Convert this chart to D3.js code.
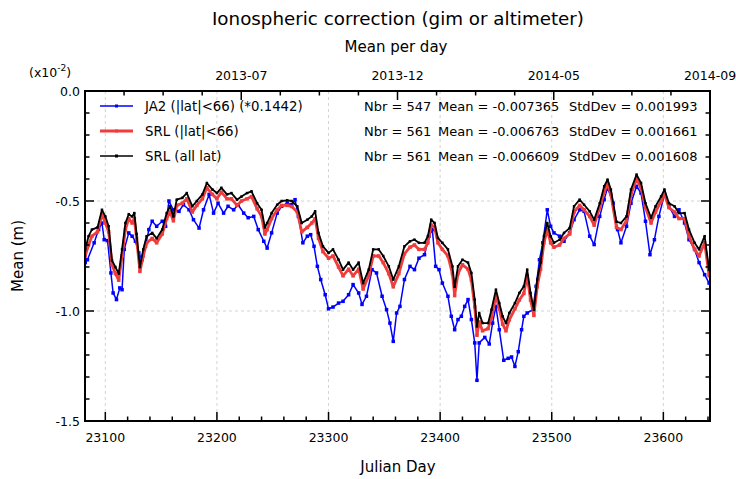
<!DOCTYPE html>
<html><head><meta charset="utf-8">
<script src="https://cdn.jsdelivr.net/npm/d3@7"></script>
<style>body{margin:0;background:#fff;} text{font-family:"DejaVu Sans",sans-serif;}</style>
</head><body>
<svg id="c" width="736" height="479"></svg>
<script>
const blackDays = [23082,23085,23088,23093,23097,23100,23103,23106,23109,23112,23115,23118,23121,23124,23126,23128,23131,23134,23137,23142,23146,23151,23155,23158,23161,23164,23169,23173,23178,23182,23187,23191,23196,23200,23204,23209,23213,23218,23222,23227,23231,23236,23240,23243,23245,23249,23254,23258,23263,23267,23272,23276,23281,23285,23288,23291,23295,23300,23304,23309,23313,23318,23322,23327,23331,23336,23340,23345,23349,23354,23358,23363,23368,23373,23377,23381,23386,23389,23392,23395,23398,23402,23407,23411,23413,23416,23420,23425,23428,23431,23433,23435,23438,23443,23446,23450,23453,23456,23459,23462,23467,23471,23475,23478,23481,23484,23487,23490,23493,23496,23499,23502,23507,23511,23516,23520,23525,23529,23534,23538,23543,23547,23550,23553,23558,23562,23567,23571,23576,23580,23584,23589,23593,23598,23601,23605,23610,23614,23619,23623,23628,23632,23637,23641];
const blackVals = [-0.72,-0.66,-0.63,-0.62,-0.54,-0.57,-0.615,-0.77,-0.80,-0.83,-0.72,-0.60,-0.56,-0.57,-0.555,-0.65,-0.80,-0.72,-0.66,-0.645,-0.67,-0.63,-0.555,-0.524,-0.57,-0.494,-0.486,-0.464,-0.524,-0.50,-0.47,-0.418,-0.448,-0.464,-0.44,-0.47,-0.464,-0.494,-0.48,-0.464,-0.456,-0.51,-0.54,-0.62,-0.60,-0.555,-0.517,-0.50,-0.497,-0.50,-0.524,-0.60,-0.585,-0.57,-0.547,-0.645,-0.706,-0.736,-0.72,-0.767,-0.812,-0.78,-0.812,-0.78,-0.873,-0.812,-0.72,-0.72,-0.75,-0.797,-0.857,-0.797,-0.706,-0.683,-0.676,-0.69,-0.69,-0.66,-0.585,-0.60,-0.668,-0.69,-0.72,-0.797,-0.89,-0.797,-0.767,-0.78,-0.827,-0.948,-1.07,-1.009,-1.055,-1.055,-0.994,-0.903,-0.964,-1.024,-1.055,-1.009,-0.964,-0.918,-0.888,-0.812,-0.918,-0.994,-0.857,-0.78,-0.66,-0.60,-0.66,-0.69,-0.676,-0.645,-0.623,-0.524,-0.494,-0.517,-0.547,-0.585,-0.51,-0.433,-0.403,-0.448,-0.594,-0.60,-0.57,-0.448,-0.38,-0.418,-0.51,-0.576,-0.524,-0.479,-0.448,-0.51,-0.524,-0.555,-0.555,-0.63,-0.69,-0.72,-0.66,-0.812];
const redVals = [-0.75,-0.70,-0.66,-0.64,-0.56,-0.60,-0.64,-0.79,-0.83,-0.86,-0.75,-0.63,-0.58,-0.60,-0.58,-0.67,-0.82,-0.75,-0.69,-0.67,-0.69,-0.65,-0.58,-0.55,-0.59,-0.52,-0.51,-0.49,-0.55,-0.52,-0.49,-0.44,-0.47,-0.49,-0.46,-0.49,-0.49,-0.52,-0.50,-0.49,-0.48,-0.535,-0.57,-0.65,-0.63,-0.58,-0.54,-0.52,-0.52,-0.525,-0.55,-0.64,-0.62,-0.60,-0.58,-0.67,-0.73,-0.76,-0.75,-0.80,-0.84,-0.81,-0.84,-0.81,-0.90,-0.84,-0.75,-0.75,-0.78,-0.83,-0.89,-0.83,-0.74,-0.71,-0.70,-0.72,-0.72,-0.69,-0.61,-0.62,-0.69,-0.72,-0.75,-0.83,-0.93,-0.83,-0.79,-0.81,-0.86,-0.98,-1.11,-1.05,-1.09,-1.08,-1.03,-0.93,-0.99,-1.06,-1.09,-1.04,-0.99,-0.95,-0.92,-0.84,-0.95,-1.02,-0.89,-0.81,-0.69,-0.63,-0.69,-0.71,-0.70,-0.67,-0.65,-0.55,-0.52,-0.54,-0.57,-0.61,-0.53,-0.46,-0.42,-0.47,-0.62,-0.63,-0.59,-0.47,-0.40,-0.44,-0.53,-0.60,-0.55,-0.50,-0.47,-0.53,-0.55,-0.58,-0.58,-0.66,-0.72,-0.75,-0.69,-0.84];
const blueDays = [23082,23084,23090,23094,23097,23099,23102,23105,23107,23110,23113,23115,23117,23121,23124,23127,23130,23133,23136,23139,23142,23146,23151,23154,23157,23161,23166,23170,23175,23179,23184,23188,23193,23197,23201,23206,23210,23215,23219,23224,23228,23233,23237,23242,23245,23249,23254,23258,23263,23267,23270,23273,23277,23281,23284,23287,23290,23293,23297,23300,23304,23309,23313,23318,23322,23327,23330,23334,23339,23343,23348,23352,23355,23358,23361,23364,23368,23373,23377,23381,23386,23390,23393,23396,23399,23402,23407,23410,23413,23416,23419,23422,23425,23428,23431,23433,23435,23440,23444,23447,23450,23453,23457,23461,23464,23467,23470,23473,23475,23478,23483,23486,23489,23492,23496,23499,23502,23507,23511,23516,23520,23525,23529,23534,23538,23543,23547,23550,23555,23559,23562,23567,23571,23576,23580,23584,23588,23592,23596,23601,23605,23610,23614,23619,23623,23628,23632,23637,23641];
const blueVals = [-0.78,-0.767,-0.69,-0.63,-0.60,-0.676,-0.68,-0.827,-0.918,-0.948,-0.895,-0.903,-0.72,-0.645,-0.66,-0.683,-0.736,-0.767,-0.706,-0.63,-0.592,-0.615,-0.592,-0.615,-0.50,-0.54,-0.547,-0.517,-0.54,-0.585,-0.623,-0.54,-0.47,-0.555,-0.51,-0.555,-0.524,-0.54,-0.517,-0.555,-0.576,-0.57,-0.63,-0.683,-0.714,-0.645,-0.555,-0.524,-0.51,-0.517,-0.494,-0.57,-0.69,-0.66,-0.653,-0.706,-0.797,-0.857,-0.926,-0.99,-0.982,-0.964,-0.956,-0.926,-0.88,-0.918,-0.97,-0.933,-0.812,-0.827,-0.933,-0.994,-1.055,-1.138,-1.009,-0.979,-0.857,-0.797,-0.812,-0.76,-0.744,-0.66,-0.63,-0.797,-0.812,-0.873,-0.933,-1.024,-1.085,-1.039,-1.024,-0.979,-0.948,-1.039,-1.145,-1.315,-1.145,-1.12,-1.15,-1.055,-0.979,-1.085,-1.224,-1.215,-1.209,-1.252,-1.185,-1.085,-1.024,-1.009,-0.994,-0.888,-0.767,-0.69,-0.54,-0.615,-0.645,-0.66,-0.683,-0.645,-0.585,-0.54,-0.547,-0.66,-0.698,-0.57,-0.494,-0.44,-0.51,-0.63,-0.69,-0.615,-0.51,-0.433,-0.464,-0.592,-0.744,-0.676,-0.57,-0.47,-0.524,-0.57,-0.54,-0.60,-0.676,-0.72,-0.78,-0.835,-0.873];
const seriesNames = ["JA2 (|lat|<66) (*0.1442)", "SRL (|lat|<66)", "SRL (all lat)"];
const statNbr = ["Nbr = 547", "Nbr = 561", "Nbr = 561"];
const statMean = ["Mean = -0.007365", "Mean = -0.006763", "Mean = -0.006609"];
const statStd = ["StdDev = 0.001993", "StdDev = 0.001661", "StdDev = 0.001608"];
const xTicks = [23100,23200,23300,23400,23500,23600];
const yTicks = [0.0,-0.5,-1.0,-1.5];
const topLabels = ["2013-07","2013-12","2014-05","2014-09"];

const svg = d3.select("#c");
const L=85, R=710, T=91, B=421;
const x = d3.scaleLinear().domain([23081.8,23641.8]).range([L,R]);
const y = d3.scaleLinear().domain([-1.5,0]).range([B,T]);
const xt = d3.scaleLinear().domain([0,4]).range([L,R]);

// grid
const g = svg.append("g");
g.selectAll(".vg").data(xTicks).join("line").attr("x1",d=>x(d)).attr("x2",d=>x(d)).attr("y1",T).attr("y2",B)
 .attr("stroke","#c8c8c8").attr("stroke-width",0.8).attr("stroke-dasharray","3,3");
g.selectAll(".hg").data([-0.5,-1.0]).join("line").attr("y1",d=>y(d)).attr("y2",d=>y(d)).attr("x1",L).attr("x2",R)
 .attr("stroke","#c8c8c8").attr("stroke-width",0.8).attr("stroke-dasharray","3,3");

svg.append("clipPath").attr("id","cp").append("rect").attr("x",L).attr("y",T).attr("width",R-L).attr("height",B-T);
const plot = svg.append("g").attr("clip-path","url(#cp)");
function drawSeries(days, vals, color, lw, ms){
  const pts = days.map((d,i)=>[d,vals[i]]);
  plot.append("path").datum(pts).attr("fill","none").attr("stroke",color).attr("stroke-width",lw)
    .attr("stroke-linejoin","round")
    .attr("d", d3.line().x(d=>x(d[0])).y(d=>y(d[1])));
  plot.append("g").selectAll("rect").data(pts).join("rect")
    .attr("x",d=>x(d[0])-ms/2).attr("y",d=>y(d[1])-ms/2).attr("width",ms).attr("height",ms).attr("fill",color);
}
drawSeries(blueDays, blueVals, "#0000ff", 1.5, 3.5);
drawSeries(blackDays, redVals, "#f03c3c", 2.8, 3.5);
drawSeries(blackDays, blackVals, "#000000", 1.8, 2.5);

// axes ticks
const ax = svg.append("g").attr("stroke","#000");
const minorX = d3.range(23100-20, 23641, 20).filter(d=>d>=23081.8 && d%100!==0);
xTicks.forEach(d=>ax.append("line").attr("x1",x(d)).attr("x2",x(d)).attr("y1",B).attr("y2",B-9).attr("stroke-width",1.5));
minorX.forEach(d=>ax.append("line").attr("x1",x(d)).attr("x2",x(d)).attr("y1",B).attr("y2",B-4.5).attr("stroke-width",1.5));
const minorY = d3.range(-14,0).map(d=>d/10).filter(d=>Math.abs(d*2-Math.round(d*2))>1e-6);
yTicks.forEach(d=>{
  ax.append("line").attr("x1",L).attr("x2",L+9).attr("y1",y(d)).attr("y2",y(d)).attr("stroke-width",1.5);
  ax.append("line").attr("x1",R).attr("x2",R-9).attr("y1",y(d)).attr("y2",y(d)).attr("stroke-width",1.5);
});
minorY.forEach(d=>{
  ax.append("line").attr("x1",L).attr("x2",L+4.5).attr("y1",y(d)).attr("y2",y(d)).attr("stroke-width",1.5);
  ax.append("line").attr("x1",R).attr("x2",R-4.5).attr("y1",y(d)).attr("y2",y(d)).attr("stroke-width",1.5);
});
d3.range(0,4.01,0.25).forEach(d=>{
  const major = Math.abs(d-Math.round(d))<1e-6;
  ax.append("line").attr("x1",xt(d)).attr("x2",xt(d)).attr("y1",T).attr("y2",T+(major?9:4.5)).attr("stroke-width",1.5);
});
svg.append("rect").attr("x",L).attr("y",T).attr("width",R-L).attr("height",B-T).attr("fill","none").attr("stroke","#000").attr("stroke-width",2);

// tick labels
svg.selectAll(".xl").data(xTicks).join("text").attr("x",d=>x(d)).attr("y",442).attr("text-anchor","middle")
  .attr("font-size",12.5).text(d=>d);
svg.selectAll(".yl").data(yTicks).join("text").attr("x",L-5).attr("y",d=>y(d)+5).attr("text-anchor","end")
  .attr("font-size",12.5).text(d=>d.toFixed(1));
svg.selectAll(".tl").data(topLabels).join("text").attr("x",(d,i)=>xt(i+1)).attr("y",80).attr("text-anchor","middle")
  .attr("font-size",12.5).text(d=>d);

// titles
svg.append("text").attr("x",398).attr("y",25).attr("text-anchor","middle").attr("font-size",18.3).text("Ionospheric correction (gim or altimeter)");
svg.append("text").attr("x",396).attr("y",52).attr("text-anchor","middle").attr("font-size",15).text("Mean per day");
svg.append("text").attr("x",398).attr("y",472).attr("text-anchor","middle").attr("font-size",15).text("Julian Day");
svg.append("text").attr("transform","translate(23,256) rotate(-90)").attr("text-anchor","middle").attr("font-size",15).text("Mean (m)");
const mult = svg.append("text").attr("x",29).attr("y",77).attr("font-size",12.5);
mult.append("tspan").text("(x10");
mult.append("tspan").attr("dy",-6).attr("font-size",9).text("-2");
mult.append("tspan").attr("dy",6).text(")");

// legend
const colors = ["#0000ff","#f03c3c","#000000"];
const lws = [1.5,2.8,1.5];
const rowsY = [106,131,156];
seriesNames.forEach((n,i)=>{
  svg.append("line").attr("x1",100).attr("x2",133).attr("y1",rowsY[i]).attr("y2",rowsY[i]).attr("stroke",colors[i]).attr("stroke-width",lws[i]);
  svg.append("rect").attr("x",115).attr("y",rowsY[i]-1.5).attr("width",3).attr("height",3).attr("fill",colors[i]);
  svg.append("text").attr("x",145).attr("y",rowsY[i]+5).attr("font-size",13.3).text(n);
  svg.append("text").attr("x",364).attr("y",rowsY[i]+5).attr("font-size",13).text(statNbr[i]);
  svg.append("text").attr("x",438).attr("y",rowsY[i]+5).attr("font-size",13).text(statMean[i]);
  svg.append("text").attr("x",569).attr("y",rowsY[i]+5).attr("font-size",13).text(statStd[i]);
});
</script>
</body></html>
